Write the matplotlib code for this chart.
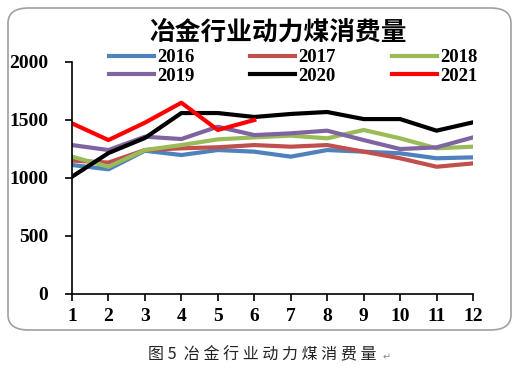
import matplotlib.pyplot as plt
from matplotlib.patches import FancyBboxPatch

months = list(range(1, 13))
years = ['2016', '2017', '2018', '2019', '2020', '2021']
v2016 = [1112, 1075, 1235, 1198, 1241, 1227, 1184, 1241, 1227, 1213, 1170, 1178]
v2017 = [1150, 1133, 1241, 1256, 1265, 1284, 1270, 1284, 1227, 1170, 1097, 1126]
v2018 = [1184, 1097, 1241, 1284, 1333, 1350, 1365, 1342, 1414, 1342, 1256, 1270]
v2019 = [1284, 1241, 1356, 1336, 1442, 1370, 1385, 1408, 1327, 1250, 1264, 1350]
v2020 = [1011, 1215, 1345, 1560, 1560, 1526, 1552, 1569, 1508, 1508, 1408, 1480]
v2021 = [1471, 1327, 1477, 1649, 1414, 1500]
series = [v2016, v2017, v2018, v2019, v2020, v2021]
colors = ['#4F81BD', '#C0504D', '#9BBB59', '#8064A2', '#000000', '#FF0000']

num_font = 'Liberation Serif'
cjk = ['Noto Sans CJK SC', 'DejaVu Sans']

fig = plt.figure(figsize=(5.18, 3.77), dpi=100)
ax = fig.add_axes([72/518, 1-294/377, (473-72)/518, (294-62)/377])

# rounded frame around the chart
frame = FancyBboxPatch((8/518, 1-330/377), 503/518, 322/377,
                       boxstyle='round,pad=0,rounding_size=0.04',
                       transform=fig.transFigure, fill=False,
                       edgecolor='#a0a0a0', linewidth=1.2)
fig.patches.append(frame)

lines = []
for yr, vals, c in zip(years, series, colors):
    ln, = ax.plot(months[:len(vals)], vals, color=c, lw=3, label=yr)
    lines.append(ln)

ax.set_xlim(1, 12)
ax.set_ylim(0, 2000)
ax.set_xticks(months)
ax.set_yticks([0, 500, 1000, 1500, 2000])
ax.spines['top'].set_visible(False)
ax.spines['right'].set_visible(False)
for s in ['left', 'bottom']:
    ax.spines[s].set_linewidth(1.2)
ax.tick_params(direction='out', length=5, width=1.2)
ax.tick_params(axis='y', pad=12)
ax.tick_params(axis='x', pad=5)
for lab in ax.get_xticklabels() + ax.get_yticklabels():
    lab.set_fontfamily(num_font)
    lab.set_fontweight('bold')
    lab.set_fontsize(14)

fig.text(278/518, 1-32/377, '冶金行业动力煤消费量', ha='center', va='center',
         fontsize=18.5, fontweight='bold', family=cjk)

# legend filled row by row
order = [0, 3, 1, 4, 2, 5]
fig.legend([lines[i] for i in order], [years[i] for i in order],
           loc='upper left', bbox_to_anchor=(109/518, 1-49/377), ncol=3,
           frameon=False, prop={'family': num_font, 'weight': 'bold', 'size': 13.5},
           handlelength=2.4, handletextpad=0.15, columnspacing=3.0,
           labelspacing=0.08, borderpad=0, borderaxespad=0)

fig.text(262/518, 1-355/377, '图 5  冶 金 行 业 动 力 煤 消 费 量', ha='center', va='center',
         fontsize=11.5, family=cjk, color='#222222')
fig.text(383/518, 1-357/377, '↵', ha='left', va='center', fontsize=7,
         color='#888888', family=['DejaVu Sans'])

fig.savefig('out.png', dpi=100)
